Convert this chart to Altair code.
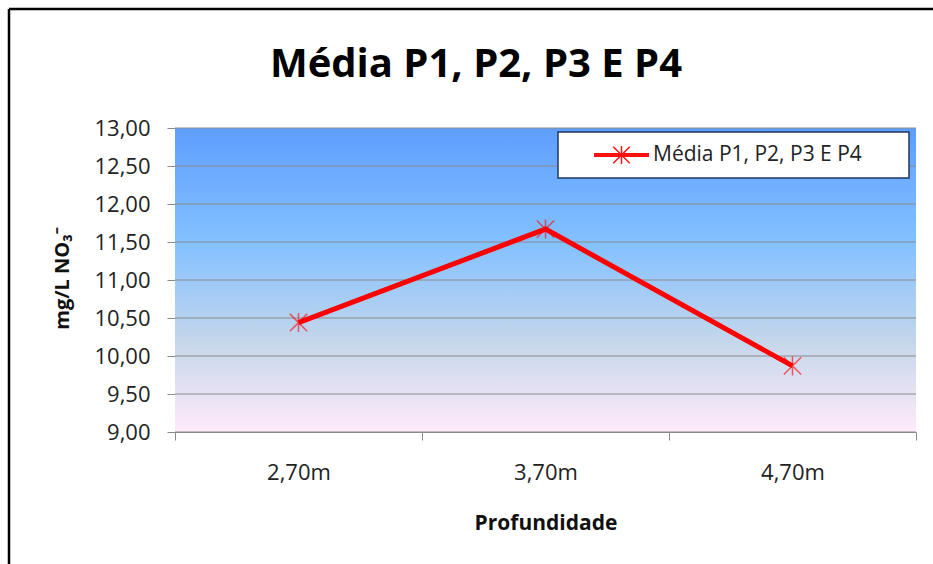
import altair as alt
import pandas as pd

# --- chart data -----------------------------------------------------------
TITLE = "Média P1, P2, P3 E P4"
SERIES = "Média P1, P2, P3 E P4"
X_TITLE = "Profundidade"
Y_TITLE = "mg/L NO₃⁻"

depths = ["2,70m", "3,70m", "4,70m"]
values = [10.44, 11.67, 9.87]
y_ticks = [9.0, 9.5, 10.0, 10.5, 11.0, 11.5, 12.0, 12.5, 13.0]
y_domain = [9.0, 13.0]

df = pd.DataFrame({"prof": depths, "valor": values, "serie": [SERIES] * len(depths)})

# --- layout / style -------------------------------------------------------
W, H = 741, 304
PAD = {"left": 175, "top": 128, "right": 17, "bottom": 132}
FONT = "Open Sans"
GRID = "#8a8a8a"

# six-armed asterisk marker
STAR = "M-1,-1L1,1M-1,1L1,-1M0,-1.1L0,1.1"
# legend sample: thick line with the asterisk on it
LEG = ("M-1,-0.045L1,-0.045M-1,-0.0225L1,-0.0225M-1,0L1,0M-1,0.0225L1,0.0225"
       "M-1,0.045L1,0.045M-0.3,-0.3L0.3,0.3M-0.3,0.3L0.3,-0.3M0,-0.33L0,0.33")

bg = alt.LinearGradient(
    gradient="linear", x1=0, x2=0, y1=0, y2=1,
    stops=[
        alt.GradientStop(color="#5e9eff", offset=0),
        alt.GradientStop(color="#85c2ff", offset=0.39),
        alt.GradientStop(color="#c4d6eb", offset=0.70),
        alt.GradientStop(color="#ffebfa", offset=1),
    ],
)

y_scale = alt.Scale(domain=y_domain, nice=False, zero=False)

x_enc = alt.X(
    "prof:N", sort=depths, title=X_TITLE,
    scale=alt.Scale(type="band", paddingInner=0, paddingOuter=0),
    axis=alt.Axis(
        labelAngle=0, tickBand="extent", grid=False,
        domainColor=GRID, tickColor=GRID, tickSize=8,
        labelFont=FONT, labelFontSize=22, labelColor="#222222",
        labelBaseline="middle", labelPadding=32,
        titleFont=FONT, titleFontSize=21, titleFontWeight="bold",
        titleColor="#111111", titleBaseline="middle", titleY=91,
    ),
)
y_enc = alt.Y(
    "valor:Q", title=Y_TITLE, scale=y_scale,
    axis=alt.Axis(
        values=y_ticks,
        labelExpr="replace(format(datum.value, '.2f'), '.', ',')",
        grid=False,
        domainColor=GRID, tickColor=GRID, tickSize=8, labelPadding=17,
        labelFont=FONT, labelFontSize=22, labelColor="#222222",
        titleFont=FONT, titleFontSize=20, titleFontWeight="bold",
        titleColor="#111111", titleX=-113, titleY=150,
        titleAlign="center", titleBaseline="middle",
    ),
)

base = alt.Chart(df)
one = pd.DataFrame({"k": [0]})

# plot-area background
panel = alt.Chart(one).mark_rect(color=bg).encode(
    x=alt.value(0), x2=alt.value(W), y=alt.value(0), y2=alt.value(H)
)

# horizontal gridlines at every y tick
grid = alt.Chart(pd.DataFrame({"valor": y_ticks})).mark_rule(
    color=GRID, strokeWidth=1
).encode(y=y_enc)

# white box behind the legend entry
legend_box = alt.Chart(one).mark_rect(
    fill="white", stroke="#1f3760", strokeWidth=1.5
).encode(x=alt.value(383), x2=alt.value(734), y=alt.value(4), y2=alt.value(50))

markers = base.mark_point(
    shape=STAR, size=300, filled=False, strokeWidth=1.5, opacity=0.65
).encode(
    x=x_enc, y=y_enc,
    color=alt.Color(
        "serie:N", scale=alt.Scale(range=["#ff1010"]),
        legend=alt.Legend(
            title=None, orient="none", legendX=383, legendY=4,
            symbolType=LEG, symbolSize=3025, symbolStrokeWidth=1.5,
            symbolOpacity=1, clipHeight=20, padding=13,
            symbolOffset=22, labelOffset=3, labelLimit=400,
            labelFont=FONT, labelFontSize=21, labelColor="#222222",
        ),
    ),
)

line = base.mark_line(color="#ff0000", strokeWidth=5).encode(x=x_enc, y=y_enc)

title = alt.Chart(pd.DataFrame({"t": [TITLE]})).mark_text(
    font=FONT, fontSize=40, fontWeight="bold", color="#000000",
    align="center", baseline="alphabetic",
).encode(text="t:N", x=alt.value(301), y=alt.value(-51))

# outer frame: top and left edges of the figure border, kept inside the canvas
right_edge = W + PAD["right"]
bottom_edge = H + PAD["bottom"]
frame_top = alt.Chart(one).mark_rule(color="#000000", strokeWidth=2.5).encode(
    x=alt.value(-166), x2=alt.value(right_edge), y=alt.value(-119)
)
frame_left = alt.Chart(one).mark_rule(color="#000000", strokeWidth=2.5).encode(
    x=alt.value(-166), y=alt.value(-119), y2=alt.value(bottom_edge)
)

chart = (
    alt.layer(frame_top, frame_left, panel, grid, legend_box, markers, line, title)
    .properties(
        width=W, height=H,
        autosize=alt.AutoSizeParams(type="none"),
        padding=PAD,
        background="white",
    )
    .configure_view(stroke=None)
)

chart.save("out.html", embed_options={"renderer": "svg", "actions": False})
